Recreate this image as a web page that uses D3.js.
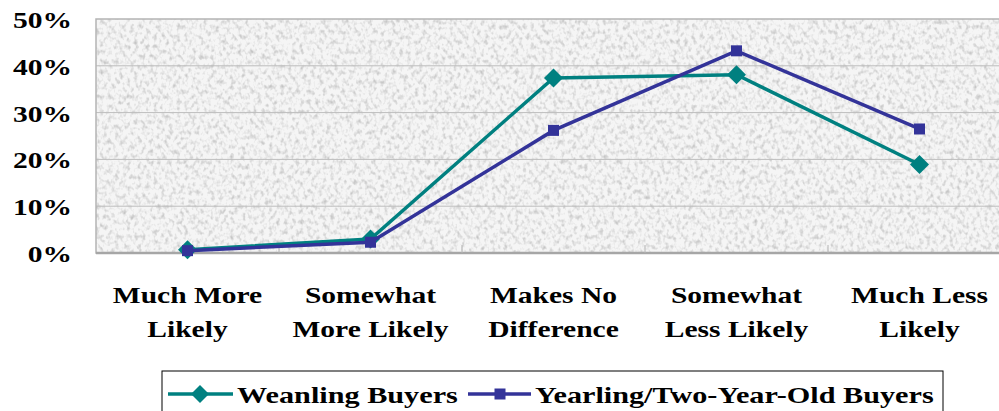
<!DOCTYPE html>
<html>
<head>
<meta charset="utf-8">
<script src="https://cdn.jsdelivr.net/npm/d3@7"></script>
<style>
  body { margin: 0; background: #fff; }
  svg { display: block; }
  text { font-family: "Liberation Serif", "Times New Roman", serif; font-weight: bold; fill: #000; }
</style>
</head>
<body>
<svg id="chart" width="999" height="411"></svg>
<script>
// categories (two lines each) and the two series, in percent
const categories = [
  ["Much More", "Likely"],
  ["Somewhat", "More Likely"],
  ["Makes No", "Difference"],
  ["Somewhat", "Less Likely"],
  ["Much Less", "Likely"]
];
const weanling = [0.7, 3.0, 37.4, 38.1, 18.9];
const yearling = [0.5, 2.3, 26.2, 43.2, 26.5];
const yTicks = [0, 10, 20, 30, 40, 50];
const seriesNames = ["Weanling Buyers", "Yearling/Two-Year-Old Buyers"];

const svg = d3.select('#chart');
const plot = { left: 96, top: 19, right: 1011, bottom: 253 };
const stretch = 1.23; // the original text is a bit wide

const catKeys = categories.map(c => c.join(' '));
const xScale = d3.scaleBand().domain(catKeys).range([plot.left, plot.right]);
const xMid = k => xScale(k) + xScale.bandwidth() / 2;
const yScale = d3.scaleLinear().domain([0, 50]).range([plot.bottom, plot.top]);

// speckled grey background like the original
const defs = svg.append('defs');
const filt = defs.append('filter').attr('id', 'granite')
    .attr('x', 0).attr('y', 0).attr('width', 1).attr('height', 1);
filt.append('feTurbulence').attr('type', 'fractalNoise')
    .attr('baseFrequency', '0.26 0.2').attr('numOctaves', 2).attr('seed', 7);
filt.append('feColorMatrix').attr('type', 'matrix')
    .attr('values', '0 0 0 0 0  0 0 0 0 0  0 0 0 0 0  -1.8 0 0 0 0.98');
filt.append('feComponentTransfer').append('feFuncA').attr('type', 'linear').attr('slope', 0.26).attr('intercept', 0);

svg.append('rect')
    .attr('x', plot.left).attr('y', plot.top)
    .attr('width', plot.right - plot.left).attr('height', plot.bottom - plot.top)
    .style('fill', '#f5f5f5');
svg.append('rect')
    .attr('x', plot.left).attr('y', plot.top)
    .attr('width', plot.right - plot.left).attr('height', plot.bottom - plot.top)
    .style('fill', '#fff')
    .attr('filter', 'url(#granite)');

// gridlines
svg.append('g').selectAll('line')
    .data(yTicks.filter(t => t > 0 && t < 50))
    .join('line')
    .attr('x1', plot.left).attr('x2', plot.right)
    .attr('y1', d => yScale(d)).attr('y2', d => yScale(d))
    .style('stroke', '#bdbdbd').style('stroke-width', 1);

// plot frame
svg.append('rect')
    .attr('x', plot.left).attr('y', plot.top)
    .attr('width', plot.right - plot.left).attr('height', plot.bottom - plot.top)
    .style('fill', 'none').style('stroke', '#b4b4b4').style('stroke-width', 1.5);
svg.append('line')
    .attr('x1', plot.left).attr('x2', plot.right)
    .attr('y1', plot.bottom).attr('y2', plot.bottom)
    .style('stroke', '#a6a6a6').style('stroke-width', 2.5);

// x ticks at category boundaries
svg.append('g').selectAll('line')
    .data(catKeys.slice(1))
    .join('line')
    .attr('x1', d => xScale(d)).attr('x2', d => xScale(d))
    .attr('y1', plot.bottom - 8).attr('y2', plot.bottom)
    .style('stroke', '#b4b4b4').style('stroke-width', 1);

// y tick labels
svg.append('g').selectAll('text')
    .data(yTicks)
    .join('text')
    .attr('transform', d => `translate(72,${yScale(d) + 9}) scale(${stretch},1)`)
    .style('text-anchor', 'end')
    .style('font-size', '24px')
    .text(d => d + '%');

// category labels
const catG = svg.append('g').selectAll('text')
    .data(categories)
    .join('text')
    .attr('transform', (d, i) => `translate(${xMid(catKeys[i])},303) scale(${stretch},1)`)
    .style('text-anchor', 'middle')
    .style('font-size', '24px');
catG.append('tspan').attr('x', 0).attr('y', 0).text(d => d[0]);
catG.append('tspan').attr('x', 0).attr('y', 34).text(d => d[1]);

// lines
const line = d3.line()
    .x((d, i) => xMid(catKeys[i]))
    .y(d => yScale(d));

const teal = '#008080';
const navy = '#333399';

function diamond(sel, size) {
  return sel.attr('d', `M0,${-size}L${size},0L0,${size}L${-size},0Z`);
}

svg.append('path').datum(weanling)
    .style('fill', 'none').style('stroke', teal).style('stroke-width', 3.5)
    .attr('d', line);
svg.append('g').selectAll('path')
    .data(weanling)
    .join('path')
    .attr('transform', (d, i) => `translate(${xMid(catKeys[i])},${yScale(d)})`)
    .call(diamond, 9.5)
    .style('fill', teal);

svg.append('path').datum(yearling)
    .style('fill', 'none').style('stroke', navy).style('stroke-width', 3.5)
    .attr('d', line);
svg.append('g').selectAll('rect')
    .data(yearling)
    .join('rect')
    .attr('x', (d, i) => xMid(catKeys[i]) - 5.5)
    .attr('y', d => yScale(d) - 5.5)
    .attr('width', 11).attr('height', 11)
    .style('fill', navy);

// legend
const legend = svg.append('g');
legend.append('rect')
    .attr('x', 162).attr('y', 371).attr('width', 781).attr('height', 60)
    .style('fill', '#fff').style('stroke', '#000').style('stroke-width', 1);

legend.append('line').attr('x1', 168).attr('x2', 233).attr('y1', 394).attr('y2', 394)
    .style('stroke', teal).style('stroke-width', 3.5);
legend.append('path').attr('transform', 'translate(200,394)').call(diamond, 9).style('fill', teal);
legend.append('text')
    .attr('transform', `translate(237,403) scale(1.26,1)`)
    .style('font-size', '24px')
    .text(seriesNames[0]);

legend.append('line').attr('x1', 468).attr('x2', 531).attr('y1', 394).attr('y2', 394)
    .style('stroke', navy).style('stroke-width', 3.5);
legend.append('rect').attr('x', 494.5).attr('y', 388.5).attr('width', 11).attr('height', 11).style('fill', navy);
legend.append('text')
    .attr('transform', `translate(535,403) scale(1.26,1)`)
    .style('font-size', '24px')
    .text(seriesNames[1]);
</script>
</body>
</html>
